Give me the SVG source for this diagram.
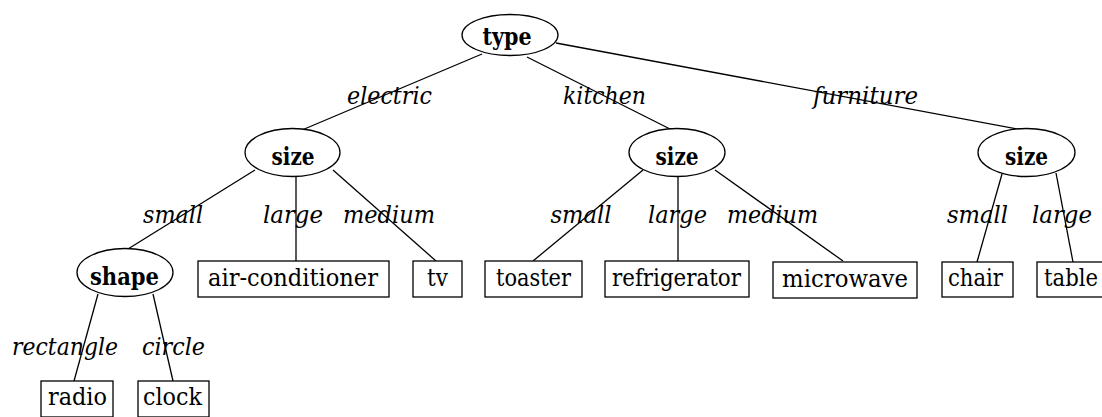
<svg xmlns="http://www.w3.org/2000/svg" width="1102" height="417" viewBox="0 0 1102 417">
  <style>
    .node { fill: #fff; stroke: #000; stroke-width: 1.3; }
    .edge { stroke: #000; stroke-width: 1.3; fill: none; }
    text { font-family: "DejaVu Serif", "Liberation Serif", serif; font-size: 25px; text-anchor: middle; fill: #000; }
    .attr { font-weight: bold; }
    .lbl { font-style: italic; }
  </style>
  <rect width="1102" height="417" fill="#fff"/>

  <!-- connectors with their value labels -->
  <g id="edges">
    <line class="edge" x1="482" y1="54" x2="302" y2="130"/>
    <line class="edge" x1="527" y1="57" x2="672" y2="130"/>
    <line class="edge" x1="556" y1="43" x2="1023" y2="130"/>
    <line class="edge" x1="255" y1="170" x2="128" y2="249"/>
    <line class="edge" x1="296" y1="176" x2="296" y2="261"/>
    <line class="edge" x1="333" y1="170" x2="436" y2="261"/>
    <line class="edge" x1="643" y1="170" x2="533" y2="261"/>
    <line class="edge" x1="678" y1="176" x2="678" y2="261"/>
    <line class="edge" x1="715" y1="170" x2="843" y2="261"/>
    <line class="edge" x1="1002" y1="174" x2="977" y2="262"/>
    <line class="edge" x1="1056" y1="173" x2="1073" y2="262"/>
    <line class="edge" x1="98" y1="294" x2="74" y2="381"/>
    <line class="edge" x1="153" y1="294" x2="173" y2="381"/>

    <text class="lbl" x="389.5" y="104" textLength="85" lengthAdjust="spacingAndGlyphs">electric</text>
    <text class="lbl" x="604.5" y="104" textLength="83" lengthAdjust="spacingAndGlyphs">kitchen</text>
    <text class="lbl" x="865.5" y="104" textLength="105" lengthAdjust="spacingAndGlyphs">furniture</text>
    <text class="lbl" x="173" y="223" textLength="60" lengthAdjust="spacingAndGlyphs">small</text>
    <text class="lbl" x="293" y="223" textLength="60" lengthAdjust="spacingAndGlyphs">large</text>
    <text class="lbl" x="389" y="223" textLength="92" lengthAdjust="spacingAndGlyphs">medium</text>
    <text class="lbl" x="581" y="223" textLength="61" lengthAdjust="spacingAndGlyphs">small</text>
    <text class="lbl" x="677.5" y="223" textLength="59" lengthAdjust="spacingAndGlyphs">large</text>
    <text class="lbl" x="772.5" y="223" textLength="91" lengthAdjust="spacingAndGlyphs">medium</text>
    <text class="lbl" x="977.5" y="223" textLength="61" lengthAdjust="spacingAndGlyphs">small</text>
    <text class="lbl" x="1062" y="223" textLength="60" lengthAdjust="spacingAndGlyphs">large</text>
    <text class="lbl" x="65" y="355" textLength="106" lengthAdjust="spacingAndGlyphs">rectangle</text>
    <text class="lbl" x="173.5" y="355" textLength="63" lengthAdjust="spacingAndGlyphs">circle</text>
  </g>

  <!-- attribute nodes -->
  <g id="type">
    <ellipse class="node" cx="510" cy="35" rx="48" ry="20.5"/>
    <text class="attr" x="507" y="45" textLength="49" lengthAdjust="spacingAndGlyphs">type</text>
  </g>
  <g id="size-electric">
    <ellipse class="node" cx="292.5" cy="152.5" rx="47.5" ry="24"/>
    <text class="attr" x="293" y="165" textLength="43" lengthAdjust="spacingAndGlyphs">size</text>
  </g>
  <g id="size-kitchen">
    <ellipse class="node" cx="677" cy="152.5" rx="48" ry="24"/>
    <text class="attr" x="677" y="165" textLength="43" lengthAdjust="spacingAndGlyphs">size</text>
  </g>
  <g id="size-furniture">
    <ellipse class="node" cx="1026.5" cy="152.5" rx="48.5" ry="24"/>
    <text class="attr" x="1026.5" y="165" textLength="43" lengthAdjust="spacingAndGlyphs">size</text>
  </g>
  <g id="shape">
    <ellipse class="node" cx="125" cy="272.5" rx="48" ry="24"/>
    <text class="attr" x="124.5" y="285" textLength="69" lengthAdjust="spacingAndGlyphs">shape</text>
  </g>

  <!-- leaf nodes -->
  <g id="air-conditioner">
    <rect class="node" x="198" y="261" width="191" height="36"/>
    <text x="293" y="286" textLength="170" lengthAdjust="spacingAndGlyphs">air-conditioner</text>
  </g>
  <g id="tv">
    <rect class="node" x="413" y="261" width="49" height="36"/>
    <text x="437.5" y="286" textLength="21" lengthAdjust="spacingAndGlyphs">tv</text>
  </g>
  <g id="toaster">
    <rect class="node" x="485" y="261" width="97" height="36"/>
    <text x="533.5" y="286" textLength="75" lengthAdjust="spacingAndGlyphs">toaster</text>
  </g>
  <g id="refrigerator">
    <rect class="node" x="605" y="261" width="144" height="36"/>
    <text x="676.5" y="286" textLength="129" lengthAdjust="spacingAndGlyphs">refrigerator</text>
  </g>
  <g id="microwave">
    <rect class="node" x="773" y="262" width="144" height="36"/>
    <text x="845" y="287" textLength="126" lengthAdjust="spacingAndGlyphs">microwave</text>
  </g>
  <g id="chair">
    <rect class="node" x="942" y="262" width="71" height="35"/>
    <text x="975.5" y="286" textLength="55" lengthAdjust="spacingAndGlyphs">chair</text>
  </g>
  <g id="table">
    <rect class="node" x="1037" y="262" width="72" height="35"/>
    <text x="1071" y="286" textLength="54" lengthAdjust="spacingAndGlyphs">table</text>
  </g>
  <g id="radio">
    <rect class="node" x="41" y="381" width="72" height="36"/>
    <text x="77.5" y="405" textLength="59" lengthAdjust="spacingAndGlyphs">radio</text>
  </g>
  <g id="clock">
    <rect class="node" x="138" y="381" width="71" height="36"/>
    <text x="172.5" y="405" textLength="59" lengthAdjust="spacingAndGlyphs">clock</text>
  </g>
</svg>
